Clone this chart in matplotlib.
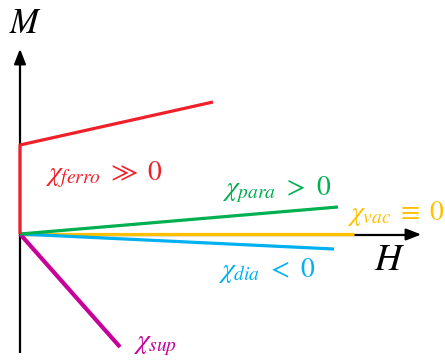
import matplotlib
matplotlib.use("Agg")
import matplotlib.pyplot as plt

plt.rcParams['mathtext.fontset'] = 'stix'

# Conceptual M(H) curves (H, M in arbitrary units, origin at 0,0)
ferro_H = [0, 0, 193]
ferro_M = [0, 89, 132]
para_H = [0, 318]
para_M = [0, 27]
vac_H = [0, 334]
vac_M = [0, 0]
dia_H = [0, 314]
dia_M = [0, -15]
sup_H = [0, 100]
sup_M = [0, -113]

labels = {
    'ferro': r'$\chi_{ferro}\ \gg\ 0$',
    'para': r'$\chi_{para}\ >\ 0$',
    'vac': r'$\chi_{vac}\;\equiv\;0$',
    'dia': r'$\chi_{dia}\ <\ 0$',
    'sup': r'$\chi_{sup}$',
}

RED = '#f0202a'
GREEN = '#00b050'
YELLOW = '#ffc000'
BLUE = '#00b0f0'
MAGENTA = '#c8009a'

fig = plt.figure(figsize=(4.45, 3.63), dpi=100)
ax = fig.add_axes([0, 0, 1, 1])
ax.set_xlim(-20, 425)
ax.set_ylim(-129, 234)
ax.axis('off')

# axes
ax.plot([0, 0], [-119, 176], color='black', lw=1.6, solid_capstyle='butt', zorder=1)
ax.plot([0, 392], [-0.5, -0.5], color='black', lw=1.6, solid_capstyle='butt', zorder=1)
ax.annotate('', xy=(0, 188), xytext=(0, 170),
            arrowprops=dict(arrowstyle='-|>,head_length=0.9,head_width=0.35',
                            color='black', lw=1.6), zorder=1)
ax.annotate('', xy=(404, -0.5), xytext=(385, -0.5),
            arrowprops=dict(arrowstyle='-|>,head_length=0.9,head_width=0.35',
                            color='black', lw=1.6), zorder=1)

lw = 2.3
ax.plot(vac_H, vac_M, color=YELLOW, lw=lw, solid_capstyle='butt', zorder=2)
ax.plot(dia_H, dia_M, color=BLUE, lw=lw, solid_capstyle='butt', zorder=3)
ax.plot(para_H, para_M, color=GREEN, lw=lw, solid_capstyle='butt', zorder=4)
ax.plot(ferro_H, ferro_M, color=RED, lw=lw, solid_capstyle='butt', zorder=5)
ax.plot(sup_H, sup_M, color=MAGENTA, lw=3.0, solid_capstyle='butt', zorder=3)

fs = 20
ax.text(25, 234 - 180, labels['ferro'], color=RED, fontsize=fs, ha='left', va='baseline')
ax.text(202, 234 - 195, labels['para'], color=GREEN, fontsize=fs, ha='left', va='baseline')
ax.text(327, 234 - 220, labels['vac'], color=YELLOW, fontsize=fs, ha='left', va='baseline')
ax.text(198, 234 - 277, labels['dia'], color=BLUE, fontsize=fs, ha='left', va='baseline')
ax.text(113, 234 - 348, labels['sup'], color=MAGENTA, fontsize=fs, ha='left', va='baseline')

ax.text(-11, 234 - 33, r'$M$', color='black', fontsize=25, ha='left', va='baseline')
ax.text(354, 234 - 270, r'$H$', color='black', fontsize=27, ha='left', va='baseline')

fig.savefig('out.png', dpi=100)
